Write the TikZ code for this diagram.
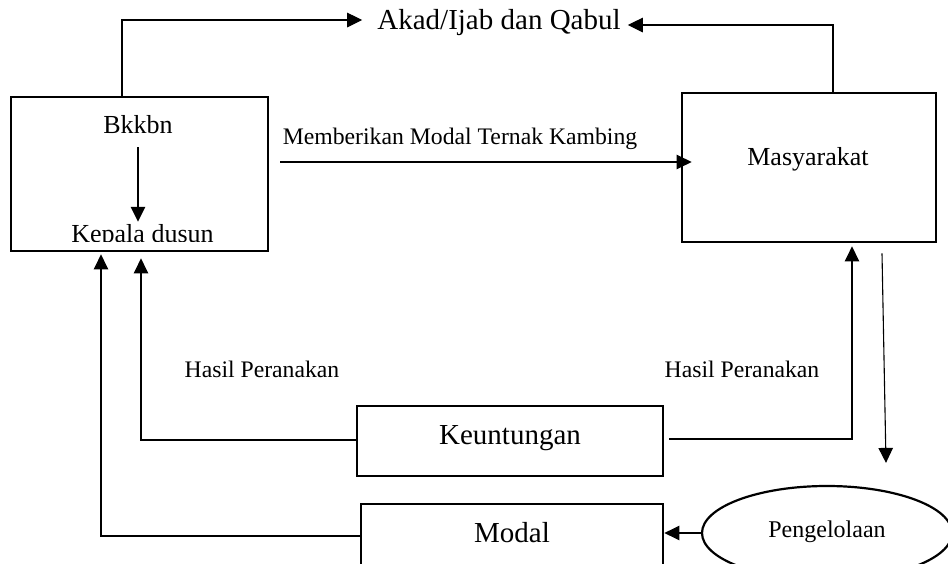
\documentclass[tikz,border=0pt]{standalone}
\usepackage{fontspec}
\setmainfont{Liberation Serif}
\usetikzlibrary{arrows.meta,shapes.geometric}
\begin{document}
\begin{tikzpicture}[x=1pt,y=-1pt,
  box/.style={draw, line width=2.8pt, inner sep=0pt, rectangle},
  txt/.style={inner sep=0pt, anchor=base},
  big/.style={txt, font=\fontsize{29}{34}\selectfont},
  mid/.style={txt, font=\fontsize{26}{31}\selectfont},
  small/.style={txt, font=\fontsize{23.7}{28}\selectfont},
  conn/.style={line width=1.1pt},
  arr/.style={conn, -{Triangle[length=15pt,width=14.5pt]}}]
\useasboundingbox (0,0) rectangle (948,564);
\clip (0,0) rectangle (948,564);
% boxes
\node[box, minimum width=257pt, minimum height=154pt] (bk) at (139.5,174) {};
\node[box, minimum width=254pt, minimum height=149pt] (ms) at (809,167.5) {};
\node[box, minimum width=306pt, minimum height=70pt] (ku) at (510,441) {};
\node[box, minimum width=302pt, minimum height=120pt] (md) at (512,564) {};
\node[draw, ellipse, line width=2.2pt, inner sep=0pt, minimum width=250pt, minimum height=94pt] (el) at (827,533) {};
% texts
\node[big] (akad) at (499,30) {Akad/Ijab dan Qabul};
\node[mid] (bkkbn) at (138,134) {Bkkbn};
\begin{scope}
\clip (0,0) rectangle (948,241.5);
\node[mid] (kepala) at (142.5,243) {Kepala dusun};
\end{scope}
\node[mid] (mst) at (808,166) {Masyarakat};
\node[small] (lbl1) at (460,145) {Memberikan Modal Ternak Kambing};
\node[small] (lbl2) at (262,377) {Hasil Peranakan};
\node[small] (lbl3) at (742,377) {Hasil Peranakan};
\node[big] (kut) at (510,444) {Keuntungan};
\node[big] (mdt) at (512,542) {Modal};
\node[txt, font=\fontsize{24}{29}\selectfont] (elt) at (827,537) {Pengelolaan};
% connectors
\draw[arr] ([yshift=-13pt]bkkbn.south) -- ([yshift=3pt]bkkbn.south |- kepala.north);
\draw[arr] ([xshift=-17.5pt]bk.north) |- ([xshift=-15pt,yshift=3pt]akad.west);
\draw[arr] ([xshift=24pt]ms.north) |- ([xshift=7pt,yshift=-2pt]akad.east);
\draw[arr] ([xshift=11pt,yshift=12pt]bk.east) -- ([xshift=11pt,yshift=12pt]bk.east -| ms.west);
\draw[arr] ([yshift=28pt]md.west) -| ([xshift=-38.5pt,yshift=-2pt]bk.south);
\draw[arr] ([yshift=1pt]ku.west) -| ([xshift=1.5pt,yshift=-6pt]bk.south);
\draw[arr] ([xshift=5pt,yshift=2pt]ku.east) -| ([xshift=43pt,yshift=-3pt]ms.south);
\draw[arr] ([xshift=73pt,yshift=-10pt]ms.south) -- ([xshift=59pt,yshift=22pt]el.north);
\draw[arr] (el.west) -- (el.west -| md.east);
\end{tikzpicture}
\end{document}
